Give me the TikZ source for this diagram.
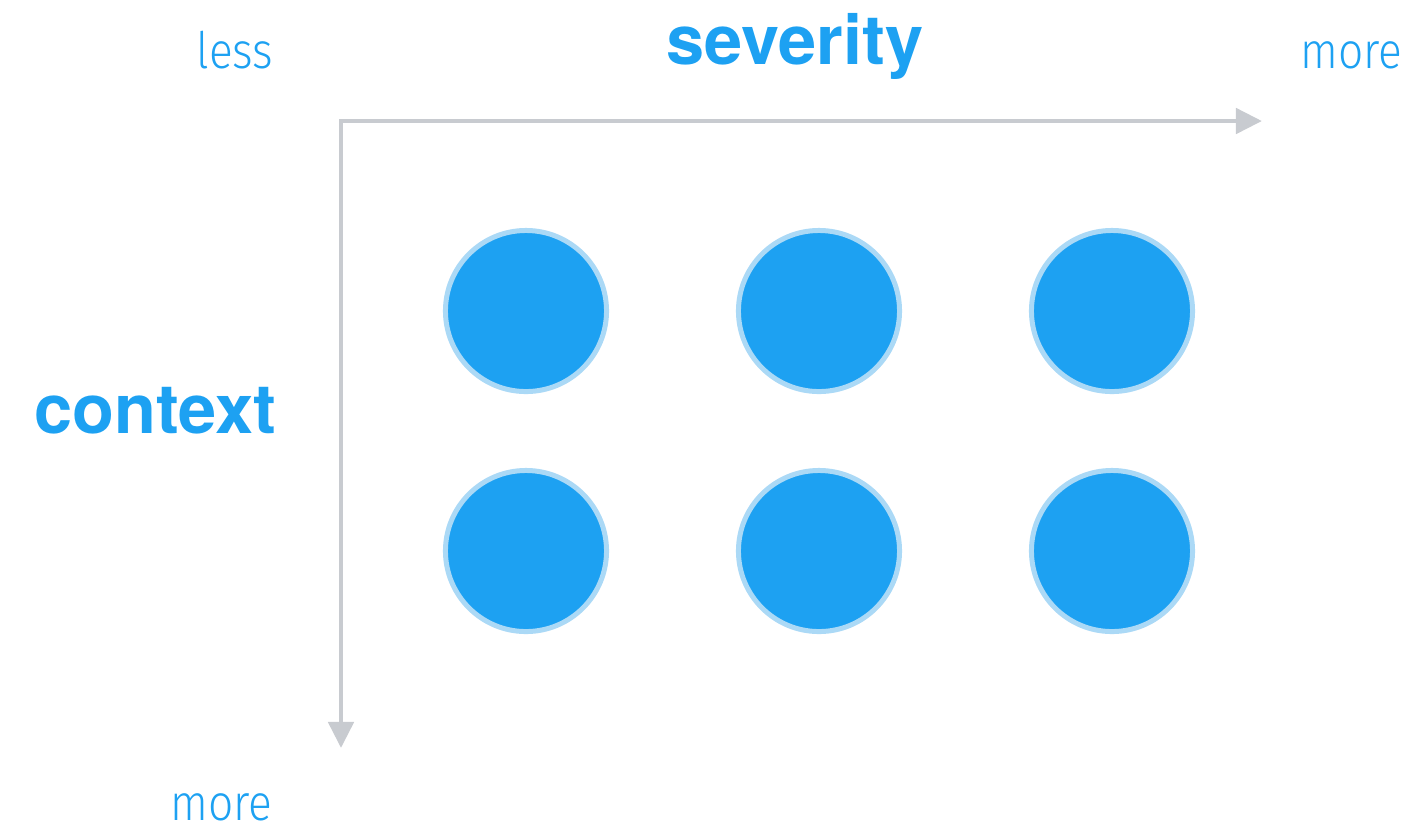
\documentclass[tikz,border=0pt]{standalone}
\usepackage{fontspec}
\setmainfont{TeX Gyre Heros}
\newfontfamily\lightfont[FakeStretch=0.88]{Fira Sans Light}
\usepackage{tikz}
\usetikzlibrary{positioning,arrows.meta}
\definecolor{tweetblue}{HTML}{1DA1F2}
\definecolor{ringblue}{HTML}{ABD9F6}
\definecolor{axisgray}{HTML}{C8CBD0}
\tikzset{
  dot/.style={circle,fill=tweetblue,draw=ringblue,line width=1.42pt,
    minimum size=1.61cm,inner sep=0pt},
  axis/.style={draw=axisgray,line width=1.4pt,
    {Triangle[length=7.4pt,width=7.1pt]}-{Triangle[length=7.4pt,width=7.1pt]}},
  title/.style={text=tweetblue,font=\fontsize{19.5}{20}\selectfont\bfseries,inner sep=0pt},
  tick/.style={text=tweetblue,font=\fontsize{14.3}{15}\selectfont\lightfont,inner sep=0pt},
}
\begin{document}
\begin{tikzpicture}[x=0.01cm,y=-0.01cm]
  \useasboundingbox (0,0) rectangle (1408,829);
  % axes
  \coordinate (origin) at (341,121);
  \coordinate (xend) at (1262,121);
  \coordinate (yend) at (341,748);
  \draw[axis] (yend) |- (xend);
  % labels
  \node[title,anchor=base] (sev) at (795,64) {severity};
  \node[title,anchor=base east] (ctx) at (277,433) {context};
  \node[tick,anchor=base east] (less) at (274,68) {less};
  \node[tick,anchor=base east] (morex) at (1403,68) {more};
  \node[tick,anchor=base east] (morey) at (273,820) {more};
  % grid of dots
  \foreach \c/\x in {1/526,2/819,3/1112}
    \foreach \r/\y in {1/311,2/551}
      \node[dot] (d\r\c) at (\x,\y) {};
\end{tikzpicture}
\end{document}
